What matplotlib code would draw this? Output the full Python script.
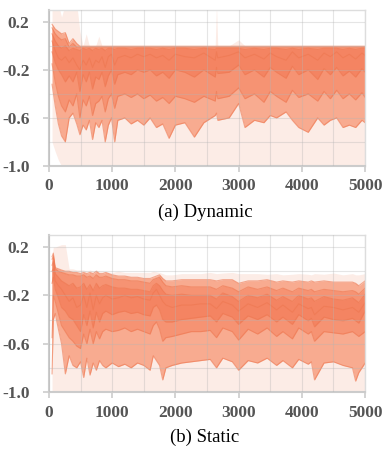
import matplotlib
matplotlib.use("Agg")
import matplotlib.pyplot as plt
from matplotlib.ticker import MultipleLocator

plt.rcParams["font.family"] = ["Liberation Serif", "DejaVu Serif"]

# ---- (a) Dynamic: percentile curves (0, 7, 16, 31, 50, 69, 84, 93, 100) ----
dyn_x = [50, 100, 150, 200, 260, 320, 380, 440,
         490, 540, 590, 640, 690, 740, 790, 840,
         890, 940, 990, 1040, 1090, 1200, 1300, 1400,
         1500, 1600, 1700, 1800, 1900, 2000, 2150, 2300,
         2450, 2630, 2650, 2670, 2850, 3000, 3100, 3250,
         3400, 3500, 3600, 3750, 3850, 3950, 4100, 4250,
         4350, 4450, 4550, 4650, 4750, 4850, 4950, 5000]
dyn_p100 = [0.35, 0.35, 0.35, 0.24, 0.35, 0.35, 0.35, 0.35,
            0.12, 0.0, 0.1, 0.0, 0.0, 0.0, 0.08, 0.0,
            0.0, 0.0, 0.0, 0.0, 0.0, 0.0, 0.0, 0.0,
            0.0, 0.0, 0.0, 0.0, 0.0, 0.0, 0.0, 0.0,
            0.0, 0.0, 0.35, 0.0, 0.0, 0.05, 0.0, 0.0,
            0.0, 0.0, 0.0, 0.0, 0.0, 0.0, 0.0, 0.0,
            0.0, 0.0, 0.0, 0.0, 0.0, 0.0, 0.0, 0.0]
dyn_p93 = [0.18, 0.14, 0.12, 0.1, 0.11, 0.02, 0.06, 0.02,
           -0.003, -0.003, -0.003, -0.003, -0.003, -0.003, -0.003, -0.003,
           -0.003, -0.003, -0.003, -0.003, -0.003, -0.003, -0.003, -0.003,
           -0.003, -0.003, -0.003, -0.003, -0.003, -0.003, -0.003, -0.003,
           -0.003, -0.003, -0.003, -0.003, -0.003, -0.003, -0.003, -0.003,
           -0.003, -0.003, -0.003, -0.003, -0.003, -0.003, -0.003, -0.003,
           -0.003, -0.003, -0.003, -0.003, -0.003, -0.003, -0.003, -0.003]
dyn_p84 = [0.15, 0.1, 0.07, 0.05, 0.06, -0.01, 0.02, -0.01,
           -0.01, -0.01, -0.01, -0.01, -0.01, -0.01, -0.01, -0.01,
           -0.01, -0.01, -0.01, -0.01, -0.01, -0.01, -0.01, -0.01,
           -0.01, -0.01, -0.01, -0.01, -0.01, -0.01, -0.01, -0.01,
           -0.01, -0.01, -0.01, -0.01, -0.01, -0.01, -0.01, -0.01,
           -0.01, -0.01, -0.01, -0.01, -0.01, -0.01, -0.01, -0.01,
           -0.01, -0.01, -0.01, -0.01, -0.01, -0.01, -0.01, -0.01]
dyn_p69 = [0.1, 0.04, 0.0, -0.02, 0.0, -0.04, -0.02, -0.03,
           -0.04, -0.02, -0.03, -0.02, -0.04, -0.02, -0.03, -0.02,
           -0.04, -0.02, -0.02, -0.03, -0.02, -0.02, -0.03, -0.02,
           -0.02, -0.02, -0.03, -0.02, -0.03, -0.02, -0.02, -0.03,
           -0.02, -0.03, -0.02, -0.02, -0.02, -0.02, -0.03, -0.02,
           -0.03, -0.02, -0.02, -0.03, -0.02, -0.03, -0.02, -0.03,
           -0.02, -0.02, -0.02, -0.03, -0.02, -0.03, -0.02, -0.02]
dyn_p50 = [0.04, -0.04, -0.1, -0.12, -0.09, -0.14, -0.1, -0.16,
           -0.2, -0.12, -0.16, -0.1, -0.18, -0.12, -0.14, -0.09,
           -0.18, -0.09, -0.07, -0.16, -0.1, -0.08, -0.1, -0.07,
           -0.09, -0.07, -0.1, -0.08, -0.12, -0.07, -0.09, -0.1,
           -0.06, -0.12, -0.05, -0.1, -0.08, -0.05, -0.1, -0.07,
           -0.11, -0.06, -0.09, -0.12, -0.05, -0.1, -0.07, -0.12,
           -0.06, -0.09, -0.05, -0.1, -0.07, -0.11, -0.06, -0.08]
dyn_p31 = [-0.05, -0.14, -0.2, -0.24, -0.3, -0.25, -0.3, -0.22,
           -0.38, -0.24, -0.3, -0.22, -0.36, -0.26, -0.28, -0.22,
           -0.34, -0.25, -0.2, -0.32, -0.24, -0.22, -0.24, -0.2,
           -0.22, -0.2, -0.25, -0.22, -0.27, -0.2, -0.22, -0.26,
           -0.2, -0.26, -0.18, -0.23, -0.22, -0.16, -0.24, -0.2,
           -0.26, -0.18, -0.22, -0.27, -0.17, -0.24, -0.2, -0.28,
           -0.19, -0.24, -0.18, -0.25, -0.21, -0.26, -0.19, -0.22]
dyn_p16 = [-0.15, -0.3, -0.42, -0.5, -0.55, -0.45, -0.5, -0.4,
           -0.6, -0.45, -0.5, -0.42, -0.58, -0.48, -0.46, -0.42,
           -0.55, -0.44, -0.4, -0.52, -0.42, -0.4, -0.43, -0.4,
           -0.44, -0.41, -0.46, -0.43, -0.48, -0.42, -0.44, -0.47,
           -0.42, -0.46, -0.38, -0.44, -0.42, -0.35, -0.44, -0.4,
           -0.47, -0.38, -0.42, -0.47, -0.37, -0.43, -0.4, -0.46,
           -0.38, -0.44, -0.37, -0.44, -0.4, -0.45, -0.39, -0.43]
dyn_p7 = [-0.32, -0.5, -0.65, -0.75, -0.8, -0.6, -0.56, -0.65,
          -0.74, -0.66, -0.7, -0.62, -0.78, -0.64, -0.68, -0.62,
          -0.8, -0.66, -0.6, -0.8, -0.62, -0.6, -0.65, -0.62,
          -0.66, -0.6, -0.68, -0.65, -0.77, -0.66, -0.64, -0.76,
          -0.64, -0.58, -0.56, -0.62, -0.6, -0.48, -0.68, -0.62,
          -0.64, -0.58, -0.6, -0.55, -0.62, -0.68, -0.72, -0.6,
          -0.66, -0.62, -0.6, -0.68, -0.66, -0.68, -0.62, -0.64]
dyn_p0 = [-0.8, -0.88, -0.95, -1.0, -1.1, -1.1, -1.1, -1.1] + [-1.1] * 48

# ---- (b) Static ----
sta_x = [50, 70, 100, 150, 200, 260, 320, 380,
         440, 500, 550, 600, 650, 700, 750, 800,
         850, 900, 1000, 1100, 1200, 1300, 1400, 1500,
         1600, 1650, 1700, 1750, 1800, 1850, 1950, 2100,
         2250, 2400, 2550, 2650, 2750, 2900, 3000, 3150,
         3300, 3450, 3600, 3700, 3850, 3950, 4100, 4150,
         4200, 4350, 4500, 4650, 4800, 4850, 4900, 5000]
sta_p100 = [0.12, 0.2, 0.2, 0.21, 0.22, 0.22, 0.02, 0.02,
            0.01, 0.01, 0.01, 0.0, 0.01, 0.0, 0.01, 0.0,
            0.0, -0.005, -0.01, 0.0, -0.01, -0.01, -0.01, -0.01,
            -0.01, 0.0, -0.005, -0.01, -0.02, -0.03, -0.03, -0.02,
            -0.02, -0.02, -0.01, -0.02, -0.015, -0.01, -0.02, -0.02,
            -0.02, -0.025, -0.02, -0.03, -0.025, -0.02, -0.025, -0.03,
            -0.02, -0.025, -0.015, -0.03, -0.02, -0.03, -0.03, -0.02]
sta_p93 = [0.12, 0.15, 0.03, 0.02, 0.01, 0.0, 0.0, -0.01,
           -0.01, -0.02, -0.01, -0.02, -0.01, -0.02, 0.0, -0.02,
           -0.02, -0.01, -0.03, -0.04, -0.04, -0.05, -0.05, -0.06,
           -0.06, -0.05, -0.04, -0.03, -0.06, -0.08, -0.08, -0.07,
           -0.07, -0.07, -0.07, -0.08, -0.07, -0.07, -0.1, -0.08,
           -0.08, -0.07, -0.09, -0.08, -0.09, -0.08, -0.09, -0.08,
           -0.09, -0.08, -0.09, -0.09, -0.09, -0.1, -0.12, -0.08]
sta_p84 = [0.1, 0.12, 0.02, 0.0, -0.01, -0.02, -0.03, -0.03,
           -0.04, -0.04, -0.03, -0.05, -0.04, -0.06, -0.03, -0.05,
           -0.05, -0.04, -0.06, -0.07, -0.07, -0.08, -0.08, -0.09,
           -0.1, -0.07, -0.06, -0.05, -0.09, -0.12, -0.13, -0.12,
           -0.13, -0.13, -0.13, -0.15, -0.12, -0.14, -0.17, -0.13,
           -0.15, -0.13, -0.16, -0.14, -0.17, -0.14, -0.16, -0.15,
           -0.17, -0.15, -0.16, -0.17, -0.16, -0.17, -0.19, -0.14]
sta_p69 = [0.05, 0.08, -0.02, -0.05, -0.08, -0.1, -0.12, -0.1,
           -0.14, -0.13, -0.1, -0.15, -0.11, -0.16, -0.1, -0.14,
           -0.12, -0.11, -0.13, -0.14, -0.14, -0.15, -0.15, -0.16,
           -0.17, -0.12, -0.1, -0.12, -0.16, -0.19, -0.2, -0.19,
           -0.2, -0.2, -0.2, -0.23, -0.18, -0.21, -0.25, -0.2,
           -0.22, -0.19, -0.24, -0.21, -0.25, -0.2, -0.23, -0.22,
           -0.25, -0.21, -0.23, -0.24, -0.22, -0.24, -0.26, -0.19]
sta_p50 = [0.0, 0.02, -0.08, -0.12, -0.15, -0.2, -0.25, -0.22,
           -0.3, -0.28, -0.2, -0.3, -0.18, -0.32, -0.2, -0.27,
           -0.22, -0.2, -0.23, -0.22, -0.2, -0.22, -0.21, -0.23,
           -0.24, -0.18, -0.15, -0.2, -0.25, -0.28, -0.3, -0.28,
           -0.28, -0.27, -0.27, -0.31, -0.25, -0.28, -0.33, -0.27,
           -0.3, -0.26, -0.32, -0.28, -0.34, -0.27, -0.31, -0.3,
           -0.36, -0.29, -0.3, -0.32, -0.3, -0.32, -0.34, -0.26]
sta_p31 = [-0.1, -0.05, -0.15, -0.22, -0.3, -0.33, -0.38, -0.4,
           -0.45, -0.5, -0.36, -0.45, -0.33, -0.47, -0.34, -0.42,
           -0.35, -0.33, -0.36, -0.34, -0.33, -0.35, -0.34, -0.36,
           -0.37, -0.3, -0.28, -0.32, -0.4, -0.42, -0.42, -0.4,
           -0.39, -0.38, -0.37, -0.42, -0.35, -0.38, -0.44, -0.37,
           -0.4, -0.36, -0.42, -0.38, -0.44, -0.36, -0.41, -0.39,
           -0.46, -0.38, -0.4, -0.41, -0.39, -0.41, -0.43, -0.33]
sta_p16 = [-0.55, -0.2, -0.25, -0.35, -0.45, -0.5, -0.55, -0.58,
           -0.62, -0.64, -0.52, -0.6, -0.48, -0.6, -0.5, -0.56,
           -0.5, -0.48, -0.5, -0.49, -0.47, -0.5, -0.48, -0.5,
           -0.52, -0.45, -0.42, -0.48, -0.58, -0.55, -0.54, -0.52,
           -0.5, -0.5, -0.49, -0.55, -0.47, -0.5, -0.57, -0.48,
           -0.52, -0.47, -0.54, -0.5, -0.56, -0.47, -0.52, -0.5,
           -0.58, -0.5, -0.51, -0.52, -0.5, -0.52, -0.54, -0.5]
sta_p7 = [-0.85, -0.4, -0.35, -0.48, -0.6, -0.85, -0.7, -0.78,
          -0.8, -0.75, -0.88, -0.72, -0.86, -0.76, -0.82, -0.74,
          -0.78, -0.8, -0.76, -0.79, -0.77, -0.8, -0.76, -0.78,
          -0.82, -0.7, -0.74, -0.78, -0.9, -0.8, -0.78, -0.76,
          -0.75, -0.74, -0.73, -0.8, -0.72, -0.75, -0.82, -0.74,
          -0.76, -0.72, -0.78, -0.74, -0.8, -0.73, -0.77, -0.75,
          -0.9, -0.76, -0.75, -0.78, -0.8, -0.91, -0.84, -0.76]
sta_p0 = [-1.0] + [-1.1] * 55

xticks = [0, 1000, 2000, 3000, 4000, 5000]
yticks = [0.2, -0.2, -0.6, -1.0]
ytick_labels = ["0.2", "-0.2", "-0.6", "-1.0"]

band_colors = ["#fcece6", "#f8ab90", "#f69373", "#f48462"]
line_color = "#ee7750"


def draw_panel(ax, x, pct, title, title_y):
    p0, p7, p16, p31, p50, p69, p84, p93, p100 = pct
    ax.fill_between(x, p0, p100, color=band_colors[0], lw=0)
    ax.fill_between(x, p7, p93, color=band_colors[1], lw=0)
    ax.fill_between(x, p16, p84, color=band_colors[2], lw=0)
    ax.fill_between(x, p31, p69, color=band_colors[3], lw=0)
    for s in (p7, p16, p31, p50, p69, p84, p93):
        ax.plot(x, s, color=line_color, lw=0.8, alpha=0.6)

    ax.set_xlim(0, 5000)
    ax.set_ylim(-1.0, 0.3)
    ax.set_xticks(xticks)
    ax.set_xticklabels([str(t) for t in xticks])
    ax.set_yticks(yticks)
    ax.set_yticklabels(ytick_labels)
    ax.xaxis.set_minor_locator(MultipleLocator(500))
    ax.yaxis.set_minor_locator(MultipleLocator(0.2))
    ax.grid(True, which="both", color="#b5b5b5", lw=0.8, alpha=0.35)
    ax.set_axisbelow(False)
    ax.tick_params(which="minor", length=0)
    ax.tick_params(which="major", length=4, width=1.2, color="#cccccc",
                   labelcolor="#555555", labelsize=12.5)
    ax.tick_params(axis="y", pad=10)
    ax.tick_params(axis="x", pad=5)
    for lab in ax.get_xticklabels() + ax.get_yticklabels():
        lab.set_fontweight("bold")
    for side in ("left", "bottom"):
        ax.spines[side].set_color("#cccccc")
        ax.spines[side].set_linewidth(1.5)
    for side in ("top", "right"):
        ax.spines[side].set_color("#dddddd")
        ax.spines[side].set_linewidth(1.0)
    fig.text(0.528, title_y, title, ha="center", va="center", fontsize=13.5)


fig = plt.figure(figsize=(3.88, 4.58), dpi=100)
ax_a = fig.add_axes([0.126, 0.6376, 0.815, 0.341])
ax_b = fig.add_axes([0.126, 0.1441, 0.815, 0.3428])

draw_panel(ax_a, dyn_x, (dyn_p0, dyn_p7, dyn_p16, dyn_p31, dyn_p50,
                         dyn_p69, dyn_p84, dyn_p93, dyn_p100),
           "(a) Dynamic", 0.537)
draw_panel(ax_b, sta_x, (sta_p0, sta_p7, sta_p16, sta_p31, sta_p50,
                         sta_p69, sta_p84, sta_p93, sta_p100),
           "(b) Static", 0.046)

fig.savefig("out.png", dpi=100)
